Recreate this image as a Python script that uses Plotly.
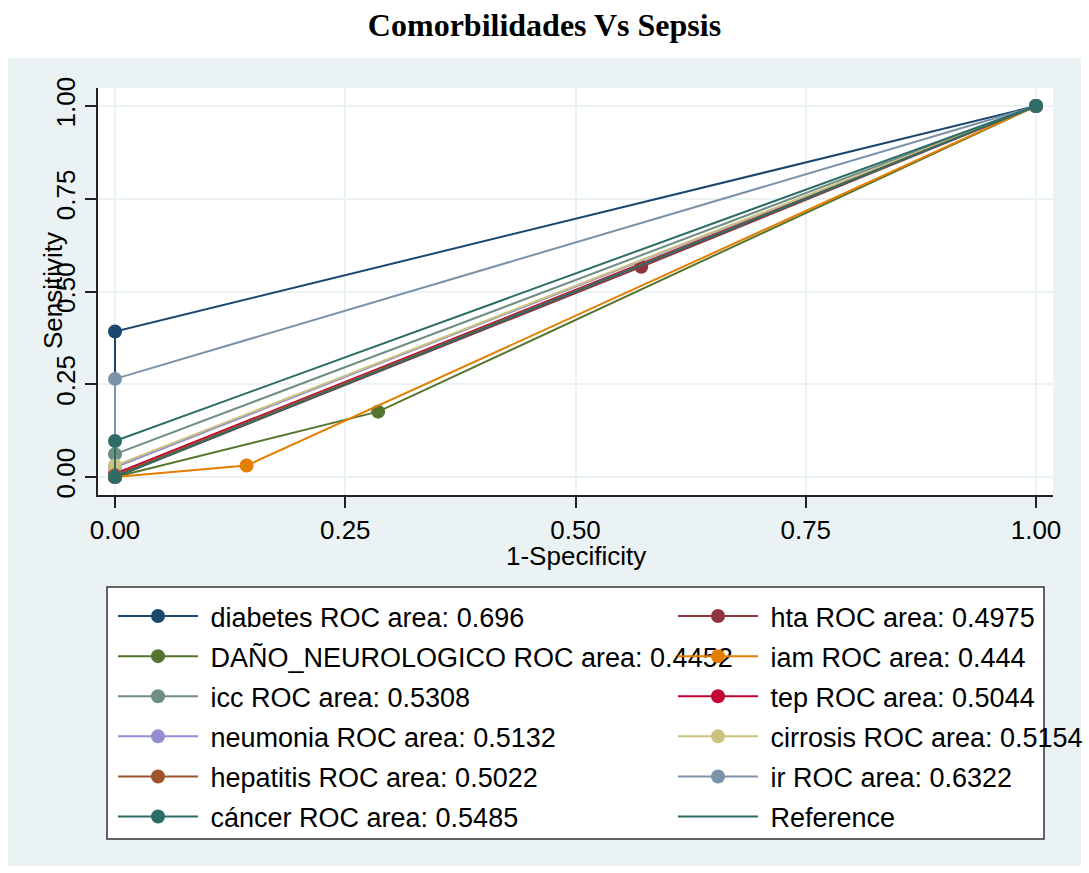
import plotly.graph_objects as go

# ---------------- data ----------------
series_names = ["diabetes", "hta", "DAÑO_NEUROLOGICO", "iam", "icc", "tep",
                "neumonia", "cirrosis", "hepatitis", "ir", "cáncer"]
roc_areas = ["0.696", "0.4975", "0.4452", "0.444", "0.5308", "0.5044",
             "0.5132", "0.5154", "0.5022", "0.6322", "0.5485"]
fpr_values = [
    [0, 0, 1],
    [0, 0.5714, 1],
    [0, 0.2857, 1],
    [0, 0.1429, 1],
    [0, 0, 1],
    [0, 0, 1],
    [0, 0, 1],
    [0, 0, 1],
    [0, 0, 1],
    [0, 0, 1],
    [0, 0, 1],
]
tpr_values = [
    [0, 0.392, 1],
    [0, 0.5664, 1],
    [0, 0.1761, 1],
    [0, 0.0309, 1],
    [0, 0.0616, 1],
    [0, 0.0088, 1],
    [0, 0.0264, 1],
    [0, 0.0308, 1],
    [0, 0.0044, 1],
    [0, 0.2644, 1],
    [0, 0.097, 1],
]
reference_x = [0, 1]
reference_y = [0, 1]
tick_values = [0, 0.25, 0.5, 0.75, 1.0]

colors = ["#1a476f", "#90353b", "#55752f", "#e37e00", "#6e8e84", "#c10534",
          "#938dd2", "#cac27e", "#a0522d", "#7b92a8", "#2d6d66"]
ref_color = "#2d6d66"

# ---------------- geometry (px) ----------------
W, H = 1089, 873
L, R, T, B = 98, 1053, 88, 495
pw, ph = R - L, B - T


def px_x(px):
    return (px - L) / pw


def px_y(py):
    return (B - py) / ph


FONT = "Liberation Sans, Arial, sans-serif"
FS = 26
LFS = 27
PAD = "\u00a0"

fig = go.Figure()
for i, name in enumerate(series_names):
    fig.add_trace(go.Scatter(
        x=fpr_values[i], y=tpr_values[i], mode="lines+markers",
        name=f"{PAD}{name} ROC area: {roc_areas[i]}",
        line=dict(color=colors[i], width=2),
        marker=dict(color=colors[i], size=14, line=dict(width=0)),
        legend="legend" if i % 2 == 0 else "legend2",
        legendgroup=f"g{i}",
    ))
fig.add_trace(go.Scatter(
    x=reference_x, y=reference_y, mode="lines", name=f"{PAD}Reference",
    line=dict(color=ref_color, width=2), legend="legend2", legendgroup="gref",
))

axis_common = dict(
    showgrid=True, gridcolor="#eaf2f3", gridwidth=2, zeroline=False,
    showline=True, linecolor="#222", linewidth=1.5,
    ticks="outside", ticklen=11, tickwidth=1.5, tickcolor="#222",
    tickvals=tick_values, tickformat=".2f",
    tickfont=dict(family=FONT, size=FS, color="black"),
    mirror=False, automargin=False,
)
fig.update_xaxes(range=[-17 / 921, 1 + 17 / 921], **axis_common)
fig.update_yaxes(range=[-18 / 371, 1 + 18 / 371], tickangle=-90, **axis_common)

legend_common = dict(
    orientation="v", bgcolor="rgba(0,0,0,0)", borderwidth=0,
    font=dict(family=FONT, size=LFS, color="black"),
    itemwidth=80, tracegroupgap=2, traceorder="grouped",
    xanchor="left", yanchor="top", itemclick=False, itemdoubleclick=False,
)

shapes = [
    dict(type="rect", xref="paper", yref="paper",
         x0=px_x(8), x1=px_x(1081), y0=px_y(866), y1=px_y(58),
         fillcolor="#eaf2f3", line=dict(width=0), layer="below"),
    dict(type="rect", xref="paper", yref="paper",
         x0=0, x1=1, y0=0, y1=1,
         fillcolor="white", line=dict(width=0), layer="below"),
    dict(type="rect", xref="paper", yref="paper",
         x0=px_x(107), x1=px_x(1044), y0=px_y(839), y1=px_y(587),
         fillcolor="white", line=dict(width=1.5, color="#333"), layer="below"),
]

annotations = [
    dict(text="1-Specificity", xref="paper", yref="paper",
         x=px_x(575.5), y=px_y(556), showarrow=False,
         xanchor="center", yanchor="middle",
         font=dict(family=FONT, size=FS, color="black")),
    dict(text="Sensitivity", xref="paper", yref="paper",
         x=px_x(53), y=px_y(291), showarrow=False, textangle=-90,
         xanchor="center", yanchor="middle",
         font=dict(family=FONT, size=FS, color="black")),
]

fig.update_layout(
    width=W, height=H,
    margin=dict(l=L, r=W - R, t=T, b=H - B, pad=0, autoexpand=False),
    paper_bgcolor="white", plot_bgcolor="white",
    title=dict(text="<b>Comorbilidades Vs Sepsis</b>", xref="container",
               x=0.5, xanchor="center", y=1 - 25 / H, yanchor="middle",
               font=dict(family="Liberation Serif, Times New Roman, serif",
                         size=32, color="black")),
    showlegend=True,
    legend=dict(x=px_x(113), y=px_y(592), **legend_common),
    legend2=dict(x=px_x(673), y=px_y(592), **legend_common),
    shapes=shapes,
    annotations=annotations,
)

fig.write_html("out.html")
